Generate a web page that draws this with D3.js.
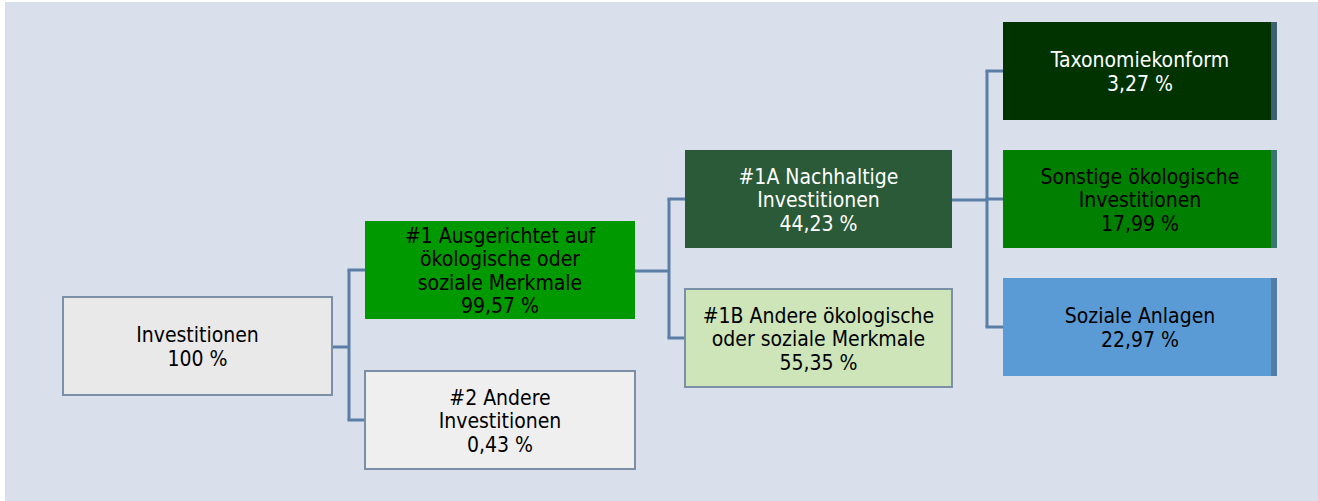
<!DOCTYPE html>
<html>
<head>
<meta charset="utf-8">
<script src="https://cdn.jsdelivr.net/npm/d3@7"></script>
<style>
  html, body { margin: 0; padding: 0; background: #ffffff; }
  svg { display: block; }
  .lbl { font-family: "DejaVu Sans Condensed", "DejaVu Sans", sans-serif; font-stretch: condensed; font-size: 21px; }
</style>
</head>
<body>
<svg width="1318" height="501"></svg>
<script>
// knoten der grafik
var ids     = ["inv", "n1", "n2", "n1a", "n1b", "tax", "eco", "soc"];
var parents = [null, "inv", "inv", "n1", "n1", "n1a", "n1a", "n1a"];
var levels  = [0, 1, 1, 2, 2, 3, 3, 3];
var labels  = [
  ["Investitionen"],
  ["#1 Ausgerichtet auf", "ökologische oder", "soziale Merkmale"],
  ["#2 Andere", "Investitionen"],
  ["#1A Nachhaltige", "Investitionen"],
  ["#1B Andere ökologische", "oder soziale Merkmale"],
  ["Taxonomiekonform"],
  ["Sonstige ökologische", "Investitionen"],
  ["Soziale Anlagen"]
];
var values  = [100, 99.57, 0.43, 44.23, 55.35, 3.27, 17.99, 22.97];

// farben
var fills = {inv: "#e9e9e9", n1: "#009a00", n2: "#efefef", n1a: "#2a5a38",
             n1b: "#cde5b8", tax: "#003300", eco: "#007f00", soc: "#5b9bd5"};
var textColors = {n1a: "#ffffff", tax: "#ffffff"};
var bordered = {inv: true, n2: true, n1b: true};

var svg = d3.select("svg");
var width = +svg.attr("width");
var height = +svg.attr("height");

// hintergrund
svg.append("rect").attr("x", 5).attr("y", 2).attr("width", width - 5).attr("height", height - 2)
  .attr("fill", "#d9dfeb");

var boxH = 98;
var colX = d3.scaleOrdinal().domain([0, 1, 2, 3]).range([63, 365, 685, 1003]);
var colW = d3.scaleOrdinal().domain([0, 1, 2, 3]).range([269, 270, 267, 274]);
var rowRange = {0: [346, 346], 1: [270, 420], 2: [199, 338], 3: [71, 327]};

var nodes = ids.map(function(id, i) {
  return {id: id, parent: parents[i], level: levels[i], lines: labels[i], value: values[i]};
});

// y-positionen je ebene
d3.range(4).forEach(function(lv) {
  var group = nodes.filter(function(d) { return d.level === lv; });
  var y = d3.scalePoint().domain(group.map(function(d) { return d.id; })).range(rowRange[lv]);
  group.forEach(function(d) {
    d.cy = y(d.id);
    d.x = colX(lv);
    d.w = colW(lv);
  });
});

var fmt = function(v) { return d3.format(v % 1 === 0 ? "d" : ".2f")(v).replace(".", ",") + " %"; };

// verbindungslinien
var conn = svg.append("g").attr("fill", "none").attr("stroke", "#5b7ea6").attr("stroke-width", 3);
nodes.forEach(function(p) {
  var kids = nodes.filter(function(d) { return d.parent === p.id; });
  if (!kids.length) return;
  var jx = kids[0].x - 16;
  conn.append("line").attr("x1", p.x + p.w).attr("x2", jx).attr("y1", p.cy + 1).attr("y2", p.cy + 1);
  conn.append("line").attr("x1", jx).attr("x2", jx)
    .attr("y1", d3.min(kids, function(k) { return k.cy; }))
    .attr("y2", d3.max(kids, function(k) { return k.cy; }));
  kids.forEach(function(k) {
    conn.append("line").attr("x1", jx - 1.5).attr("x2", k.x).attr("y1", k.cy).attr("y2", k.cy);
  });
});

// kaesten
var box = svg.append("g").selectAll("g").data(nodes).enter().append("g");

box.append("rect")
  .attr("x", function(d) { return d.x; })
  .attr("y", function(d) { return d.cy - boxH / 2; })
  .attr("width", function(d) { return d.w; })
  .attr("height", boxH)
  .attr("fill", function(d) { return fills[d.id]; })
  .attr("stroke", function(d) { return bordered[d.id] ? "#7b8fa6" : "none"; })
  .attr("stroke-width", 2);

// rechter rand der letzten spalte
box.filter(function(d) { return d.level === 3; }).append("rect")
  .attr("x", function(d) { return d.x + d.w - 6; })
  .attr("y", function(d) { return d.cy - boxH / 2; })
  .attr("width", 6)
  .attr("height", boxH)
  .attr("fill", "#4e7396")
  .attr("opacity", 0.75);

var lineH = 23.5;
box.append("text")
  .attr("class", "lbl")
  .attr("text-anchor", "middle")
  .attr("fill", function(d) { return textColors[d.id] || "#000000"; })
  .each(function(d) {
    var all = d.lines.concat([fmt(d.value)]);
    var t = d3.select(this);
    var y0 = d.cy + 8 - (all.length - 1) * lineH / 2;
    all.forEach(function(s, i) {
      t.append("tspan")
        .attr("x", d.x + d.w / 2)
        .attr("y", y0 + i * lineH)
        .text(s);
    });
  });
</script>
</body>
</html>
